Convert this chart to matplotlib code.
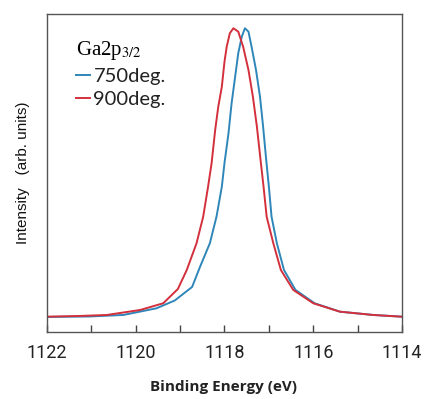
import matplotlib
matplotlib.use("Agg")
import matplotlib.pyplot as plt
from matplotlib.ticker import MultipleLocator, FuncFormatter

# Ga2p3/2 spectra (binding energy in eV, intensity in arb. units)
energy_750 = [1122.00, 1121.03, 1120.28, 1119.53, 1119.12, 1118.73, 1118.55, 1118.33,
              1118.18, 1118.06, 1118.00, 1117.91, 1117.84, 1117.76, 1117.69, 1117.61,
              1117.54, 1117.46, 1117.39, 1117.29, 1117.20, 1117.13, 1117.06, 1117.00,
              1116.94, 1116.82, 1116.66, 1116.40, 1115.97, 1115.40, 1114.65, 1114.01]
intensity_750 = [15.0, 15.5, 17.0, 23.7, 31.5, 45.0, 65.3, 88.7,
                 115.3, 145.3, 169.0, 198.7, 228.7, 255.3, 278.7, 295.3,
                 303.7, 300.3, 285.3, 262.0, 235.3, 205.3, 172.0, 145.3,
                 115.3, 88.7, 62.0, 42.0, 28.7, 20.3, 17.0, 15.3]

energy_900 = [1122.00, 1121.26, 1120.65, 1119.90, 1119.38, 1119.05, 1118.85, 1118.63,
              1118.48, 1118.37, 1118.29, 1118.21, 1118.14, 1118.06, 1118.00, 1117.95,
              1117.88, 1117.80, 1117.69, 1117.58, 1117.46, 1117.36, 1117.27, 1117.18,
              1117.12, 1117.05, 1116.90, 1116.73, 1116.45, 1116.00, 1115.40, 1114.65,
              1114.01]
intensity_900 = [15.3, 16.0, 17.0, 22.0, 28.7, 43.0, 62.0, 88.7,
                 115.3, 145.3, 169.0, 202.0, 225.3, 245.3, 270.3, 285.3,
                 298.7, 303.7, 300.3, 285.3, 262.0, 235.3, 205.3, 169.0,
                 145.3, 115.3, 88.7, 62.0, 42.0, 28.7, 20.3, 17.0,
                 15.3]

labels = ["750deg.", "900deg."]
colors = ["#2f86b8", "#d3303c"]

plt.rcParams["mathtext.fontset"] = "stix"

fig = plt.figure(figsize=(4.27, 3.99), dpi=100)
ax = fig.add_axes([0.110, 0.168, 0.8315, 0.797])

ax.plot(energy_750, intensity_750, color=colors[0], lw=1.4, label=labels[0])
ax.plot(energy_900, intensity_900, color=colors[1], lw=1.4, label=labels[1])

ax.set_xlim(1122, 1114)
ax.set_ylim(0, 318)
ax.set_yticks([])

ax.xaxis.set_major_locator(MultipleLocator(1))
ax.xaxis.set_major_formatter(FuncFormatter(lambda v, p: f"{v:.0f}" if round(v) % 2 == 0 else ""))
ax.tick_params(axis="x", direction="in", length=5, width=1, color="#444444",
               pad=9, labelsize=13, labelcolor="#222222")
for lbl in ax.get_xticklabels():
    lbl.set_family("Roboto")
for s in ax.spines.values():
    s.set_color("#555555")
    s.set_linewidth(1.0)

ax.set_xlabel("Binding Energy (eV)", fontsize=11, fontweight="bold",
              family="Open Sans", color="#222222")
ax.xaxis.set_label_coords(0.496, -0.152)
ax.set_ylabel("Intensity   (arb. units)", fontsize=11, family="Liberation Sans",
              color="#111111")
ax.yaxis.set_label_coords(-0.047, 0.5)

leg = ax.legend(loc="upper left", bbox_to_anchor=(0.06, 0.947), frameon=False,
                handlelength=0.7, handletextpad=0.15, labelspacing=0.3,
                title=r"Ga2p$_{3/2}$", prop={"family": "Lato", "size": 14.5},
                borderaxespad=0)
leg.get_title().set_family("Liberation Serif")
leg.get_title().set_fontsize(15)
leg._legend_box.align = "left"
for t in leg.get_texts():
    t.set_color("#222222")

fig.savefig("out.png", dpi=100, facecolor="white")
